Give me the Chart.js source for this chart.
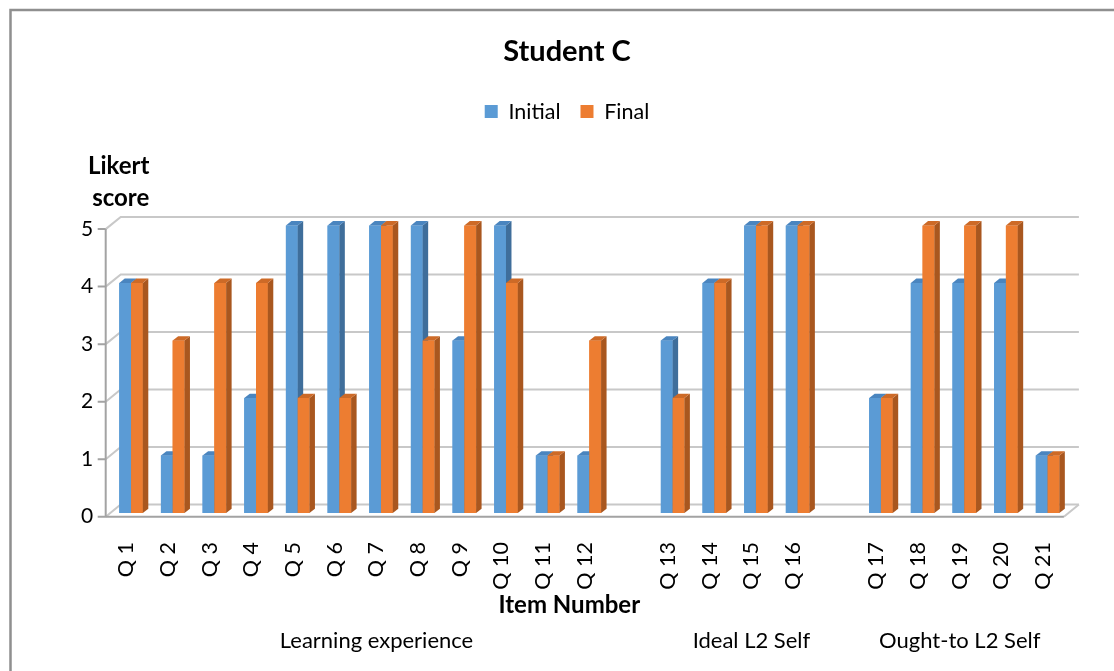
<!DOCTYPE html>
<html>
<head>
<meta charset="utf-8">
<title>Student C</title>
<script src="https://cdn.jsdelivr.net/npm/chart.js@4/dist/chart.umd.min.js"></script>
<style>
  html, body { margin: 0; padding: 0; background: #ffffff; }
  #wrap { width: 1114px; height: 671px; position: relative; overflow: hidden; }
  canvas { display: block; }
</style>
</head>
<body>
<div id="wrap"><canvas id="chart" width="1114" height="671"></canvas></div>
<script>
// Item labels (empty entries are the spacer slots between the three scales)
const itemLabels = [
  'Q 1', 'Q 2', 'Q 3', 'Q 4', 'Q 5', 'Q 6', 'Q 7', 'Q 8', 'Q 9', 'Q 10', 'Q 11', 'Q 12',
  '',
  'Q 13', 'Q 14', 'Q 15', 'Q 16',
  '',
  'Q 17', 'Q 18', 'Q 19', 'Q 20', 'Q 21'
];

// Likert scores per item
const initialScores = [4, 1, 1, 2, 5, 5, 5, 5, 3, 5, 1, 1, null, 3, 4, 5, 5, null, 2, 4, 4, 4, 1];
const finalScores   = [4, 3, 4, 4, 2, 2, 5, 3, 5, 4, 1, 3, null, 2, 4, 5, 5, null, 2, 5, 5, 5, 1];

// Value-axis ticks
const scoreTicks = [0, 1, 2, 3, 4, 5];

// Scale groups and the item slots each one covers (first, last)
const groupNames = ['Learning experience', 'Ideal L2 Self', 'Ought-to L2 Self'];
const groupFirst = [0, 13, 18];
const groupLast  = [12, 17, 22];

// ---- perspective geometry (pixels, relative to the plane the bars are drawn in)
const FRONT = { x: -4.5, y: 3.7 };     // front edge of the floor / value axis
const BACK  = { x: 10.5, y: -8.5 };    // back wall
const BAR_DEPTH = { x: 5.5, y: -4.3 }; // thickness of each column

const FONT = 'Lato, "Open Sans", "DejaVu Sans", sans-serif';

// shaded side and top faces for each series
const faces = [
  { side: '#3F6E9B', top: '#4A85BF' },
  { side: '#A9571F', top: '#CD6A27' }
];

function drawFaces(ctx, bar, col) {
  const { x, y, base, width } = bar.getProps(['x', 'y', 'base', 'width'], true);
  const l = x - width / 2, r = x + width / 2;
  const dx = BAR_DEPTH.x, dy = BAR_DEPTH.y;
  ctx.fillStyle = col.side;
  ctx.beginPath();
  ctx.moveTo(r, y);
  ctx.lineTo(r + dx, y + dy);
  ctx.lineTo(r + dx, base + dy);
  ctx.lineTo(r, base);
  ctx.closePath();
  ctx.fill();
  ctx.fillStyle = col.top;
  ctx.beginPath();
  ctx.moveTo(l, y);
  ctx.lineTo(l + dx, y + dy);
  ctx.lineTo(r + dx, y + dy);
  ctx.lineTo(r, y);
  ctx.closePath();
  ctx.fill();
}

const perspectivePlugin = {
  id: 'perspective',
  beforeDraw(chart) {
    const { ctx, width, height } = chart;
    ctx.save();
    ctx.fillStyle = '#ffffff';
    ctx.fillRect(0, 0, width, height);
    // outer frame of the chart object
    ctx.strokeStyle = '#8f8f8f';
    ctx.lineWidth = 2.5;
    ctx.strokeRect(10.5, 10, width + 40, height + 40);
    ctx.restore();
  },
  beforeDatasetsDraw(chart) {
    const { ctx, chartArea: a, scales: { y } } = chart;
    const fl = a.left + FRONT.x;
    ctx.save();
    ctx.lineWidth = 2;
    ctx.strokeStyle = '#c8c8c8';
    scoreTicks.forEach(v => {
      const yy = y.getPixelForValue(v);
      ctx.beginPath();
      ctx.moveTo(fl, yy + FRONT.y);
      ctx.lineTo(a.left + BACK.x, yy + BACK.y);
      ctx.lineTo(a.right + BACK.x, yy + BACK.y);
      ctx.stroke();
    });
    const y0 = y.getPixelForValue(0);
    ctx.beginPath();
    ctx.moveTo(a.right + FRONT.x, y0 + FRONT.y);
    ctx.lineTo(a.right + BACK.x, y0 + BACK.y);
    ctx.stroke();
    ctx.restore();
  },
  afterDatasetsDraw(chart) {
    const { ctx, chartArea: a, scales: { y } } = chart;
    // columns are painted left series first so each neighbour hides the
    // side face behind it, then the depth faces are added
    ctx.save();
    chart.data.datasets.forEach((ds, di) => {
      const meta = chart.getDatasetMeta(di);
      meta.data.forEach((bar, i) => {
        if (ds.data[i] === null || ds.data[i] === undefined) return;
        bar.draw(ctx, a);
        drawFaces(ctx, bar, faces[di]);
      });
    });
    ctx.restore();

    const fl = a.left + FRONT.x;
    const yTop = y.getPixelForValue(5) + FRONT.y;
    const yBot = y.getPixelForValue(0) + FRONT.y;
    ctx.save();
    ctx.strokeStyle = '#a3a3a3';
    ctx.lineWidth = 2;
    ctx.beginPath();
    ctx.moveTo(fl, yTop);
    ctx.lineTo(fl, yBot);
    ctx.moveTo(fl - 8, yBot);
    ctx.lineTo(a.right + FRONT.x, yBot);
    scoreTicks.forEach(v => {
      const yy = y.getPixelForValue(v) + FRONT.y;
      ctx.moveTo(fl - 8, yy);
      ctx.lineTo(fl, yy);
    });
    ctx.stroke();
    ctx.restore();
  },
  afterDraw(chart) {
    const { ctx, chartArea: a, scales: { x } } = chart;
    ctx.save();
    ctx.fillStyle = '#000000';
    ctx.textAlign = 'center';
    ctx.textBaseline = 'alphabetic';
    // value-axis title
    ctx.font = 'bold 24px ' + FONT;
    const lx = a.left + FRONT.x + 13;
    ctx.fillText('Likert', lx, 174);
    ctx.fillText('score', lx + 2, 206);
    // category-axis title
    ctx.fillText('Item Number', (a.left + a.right) / 2 - 20, 613);
    // scale groups
    ctx.font = '22px ' + FONT;
    groupNames.forEach((name, g) => {
      const cx = x.getPixelForValue((groupFirst[g] + groupLast[g]) / 2) + FRONT.x;
      ctx.fillText(name, cx, 648);
    });
    ctx.restore();
  }
};

function build() {
  new Chart(document.getElementById('chart'), {
    type: 'bar',
    data: {
      labels: itemLabels,
      datasets: [
        { label: 'Initial', data: initialScores, backgroundColor: '#5B9BD5', borderWidth: 0 },
        { label: 'Final',   data: finalScores,   backgroundColor: '#ED7D31', borderWidth: 0 }
      ]
    },
    options: {
      responsive: false,
      animation: false,
      devicePixelRatio: 1,
      events: [],
      categoryPercentage: 0.565,
      barPercentage: 1.0,
      layout: { padding: { left: 65.6, right: 45.6, top: 0, bottom: 0 } },
      plugins: {
        tooltip: { enabled: false },
        title: {
          display: true,
          text: 'Student C',
          color: '#000000',
          font: { family: FONT, size: 29, weight: 'bold' },
          padding: { top: 34.6, bottom: 11.45 }
        },
        legend: {
          display: true,
          position: 'top',
          labels: {
            boxWidth: 13,
            boxHeight: 13,
            padding: 20,
            color: '#000000',
            font: { family: FONT, size: 21.5 }
          }
        }
      },
      scales: {
        x: {
          type: 'category',
          offset: true,
          grid: { display: false, drawTicks: false },
          border: { display: false },
          ticks: {
            autoSkip: false,
            minRotation: 90,
            maxRotation: 90,
            padding: 29,
            labelOffset: FRONT.x,
            color: '#000000',
            font: { family: FONT, size: 21.5 }
          },
          afterFit(s) { s.height = 158; }
        },
        xTop: {
          axis: 'x',
          type: 'category',
          position: 'top',
          grid: { display: false, drawTicks: false },
          border: { display: false },
          ticks: { display: false },
          afterFit(s) { s.height = 93.05; }
        },
        y: {
          min: 0,
          max: 5,
          afterBuildTicks(s) { s.ticks = scoreTicks.map(v => ({ value: v })); },
          grid: { display: false, drawTicks: false },
          border: { display: false },
          ticks: {
            padding: 17,
            labelOffset: FRONT.y,
            color: '#000000',
            font: { family: FONT, size: 21 }
          },
          afterFit(s) { s.width = 44.6; }
        }
      }
    },
    plugins: [perspectivePlugin]
  });
}

if (document.fonts && document.fonts.load) {
  Promise.all([
    document.fonts.load('21px Lato'),
    document.fonts.load('bold 21px Lato')
  ]).catch(() => {}).then(build);
} else {
  build();
}
</script>
</body>
</html>
